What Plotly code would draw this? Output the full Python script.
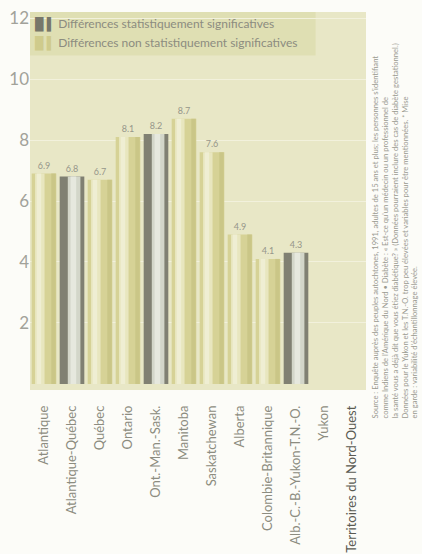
import plotly.graph_objects as go

# Diabetes prevalence (%) by region; Yukon and N.W.T. not reported
regions = [
    "Atlantique", "Atlantique-Québec", "Québec", "Ontario", "Ont.-Man.-Sask.",
    "Manitoba", "Saskatchewan", "Alberta", "Colombie-Britannique",
    "Alb.-C.-B.-Yukon-T.N.-O.", "Yukon", "Territoires du Nord-Ouest",
]
values = [6.9, 6.8, 6.7, 8.1, 8.2, 8.7, 7.6, 4.9, 4.1, 4.3, None, None]
significant = [False, True, False, False, True, False, False, False, False, True, False, False]

y_ticks = [2, 4, 6, 8, 10, 12]

sig_name = "Différences statistiquement significatives"
nonsig_name = "Différences non statistiquement significatives"

source_note = (
    "Source : Enquête auprès des peuples autochtones, 1991, adultes de 15 ans et plus; les personnes s'identifiant<br>"
    "comme Indiens de l'Amérique du Nord • Diabète : « Est-ce qu'un médecin ou un professionnel de<br>"
    "la santé vous a déjà dit que vous étiez diabétique? » (Données pourraient inclure des cas de diabète gestationnel.)<br>"
    "Données pour le Yukon et les T.N.-O. trop peu élevées et variables pour être mentionnées. * Mise<br>"
    "en garde : variabilité d'échantillonnage élevée."
)

GREY_TXT = "#8c8c80"
SIG_DARK = "#808072"
NON_BODY = "#d6d296"
CLEAR = "rgba(0,0,0,0)"


def split(flag):
    return [v if (s == flag and v is not None) else None for v, s in zip(values, significant)]


def key_label(color, name):
    # square swatch + thin bar, drawn as glyphs ahead of the legend text
    return (f"<span style='color:{color}'>█ ▌</span> " + name)


sig_vals = split(True)
non_vals = split(False)

fig = go.Figure()

# Non-significant bars: olive body with a pale highlight and darker right edge
fig.add_bar(x=regions, y=non_vals, width=0.88, offset=-0.44,
            marker=dict(color=NON_BODY, line=dict(width=0)), showlegend=False,
            text=[f"{v:.1f}" if v is not None else "" for v in non_vals],
            textposition="outside", textfont=dict(size=9, color="#96968a"),
            cliponaxis=False)
fig.add_bar(x=regions, y=non_vals, width=0.34, offset=-0.32,
            marker=dict(color="#e8e6bf", line=dict(width=0)),
            showlegend=False, hoverinfo="skip")
fig.add_bar(x=regions, y=non_vals, width=0.16, offset=-0.26,
            marker=dict(color="#efeed3", line=dict(width=0)),
            showlegend=False, hoverinfo="skip")
fig.add_bar(x=regions, y=non_vals, width=0.16, offset=0.26,
            marker=dict(color="#cac687", line=dict(width=0)),
            showlegend=False, hoverinfo="skip")

# Significant bars: grey body with a light stripe
fig.add_bar(x=regions, y=sig_vals, width=0.88, offset=-0.44,
            marker=dict(color=SIG_DARK, line=dict(width=0)), showlegend=False,
            text=[f"{v:.1f}" if v is not None else "" for v in sig_vals],
            textposition="outside", textfont=dict(size=9, color="#96968a"),
            cliponaxis=False)
fig.add_bar(x=regions, y=sig_vals, width=0.45, offset=-0.15,
            marker=dict(color="#d3d6c9", line=dict(width=0)),
            showlegend=False, hoverinfo="skip")
fig.add_bar(x=regions, y=sig_vals, width=0.20, offset=-0.05,
            marker=dict(color="#e6e8de", line=dict(width=0)),
            showlegend=False, hoverinfo="skip")

# Legend entries (symbols carried in the text)
for rank, (col, nm) in enumerate([("#77776a", sig_name), ("#cfcb8c", nonsig_name)], start=1):
    fig.add_scatter(x=[None], y=[None], mode="markers",
                    marker=dict(color=CLEAR, size=1, line=dict(width=0)),
                    name=key_label(col, nm), legendrank=rank)

tick_text = [r if r != "Territoires du Nord-Ouest"
             else "<span style='color:#5a5a52'>" + r + "</span>" for r in regions]

fig.update_layout(
    width=422, height=554,
    margin=dict(l=30, r=56, t=12, b=164, autoexpand=False),
    barmode="overlay",
    paper_bgcolor="#fcfcf8",
    plot_bgcolor="#e8e7c6",
    font=dict(family="Lato, Noto Sans, sans-serif", color=GREY_TXT),
    showlegend=True,
    legend=dict(
        x=-0.104, y=1.008, xanchor="left", yanchor="top",
        bgcolor=CLEAR, borderwidth=0,
        font=dict(size=12, color=GREY_TXT),
        itemwidth=30,
    ),
    shapes=[dict(
        type="rect", xref="paper", yref="paper", layer="below",
        x0=0, x1=0.85, y0=0.885, y1=1.0,
        fillcolor="#dfdfb3", line=dict(width=0),
    )],
    xaxis=dict(
        tickmode="array", tickvals=regions, ticktext=tick_text,
        tickangle=-90, tickfont=dict(size=13, color=GREY_TXT),
        showline=False, ticks="", showgrid=False, ticklabelstandoff=12,
    ),
    yaxis=dict(
        range=[-0.2, 12.2], tickvals=y_ticks,
        tickfont=dict(size=17, color="#a2a29a"),
        showgrid=True, gridcolor="#f2f1dc", gridwidth=1,
        zeroline=False, showline=False, ticks="",
    ),
    annotations=[dict(
        text=source_note, textangle=-90, xref="paper", yref="paper",
        x=1.005, y=-0.08, xanchor="left", yanchor="bottom", align="left",
        showarrow=False, font=dict(size=7.6, color="#9a9a90"),
    )],
)

fig.write_html("out.html")
